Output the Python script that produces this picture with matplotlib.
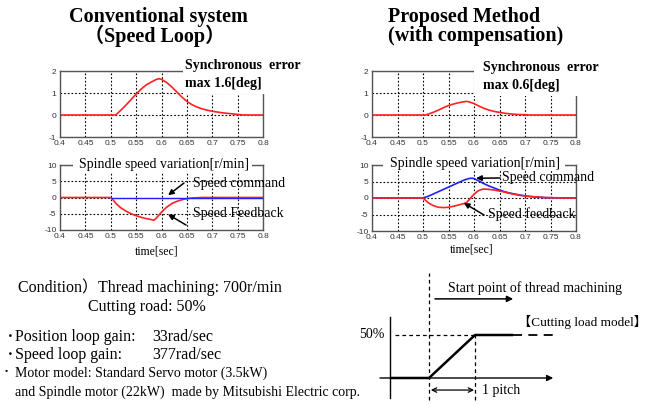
import matplotlib
matplotlib.use("Agg")
import matplotlib.pyplot as plt
from matplotlib.patches import Rectangle

# ---------------- data ----------------
x_ticks = [0.4, 0.45, 0.5, 0.55, 0.6, 0.65, 0.7, 0.75, 0.8]
x_tick_labels = ["0.4", "0.45", "0.5", "0.55", "0.6", "0.65", "0.7", "0.75", "0.8"]
err_yticks = [-1, 0, 1, 2]
spd_yticks = [-10, -5, 0, 5, 10]

# Synchronous error, conventional system [deg]
t_err_conv = [0.4, 0.51, 0.52, 0.53, 0.54, 0.55, 0.56, 0.57, 0.58, 0.59, 0.595, 0.6,
              0.61, 0.62, 0.63, 0.64, 0.65, 0.66, 0.67, 0.68, 0.69, 0.7, 0.72, 0.74, 0.76, 0.8]
err_conv = [0, 0, 0.22, 0.45, 0.7, 0.95, 1.18, 1.37, 1.5, 1.62, 1.65, 1.62,
            1.48, 1.28, 1.05, 0.82, 0.62, 0.47, 0.36, 0.28, 0.22, 0.17, 0.1, 0.05, 0, 0]

# Synchronous error, proposed method [deg]
t_err_prop = [0.4, 0.505, 0.52, 0.53, 0.54, 0.55, 0.56, 0.57, 0.58, 0.585, 0.59, 0.6,
              0.61, 0.62, 0.63, 0.64, 0.65, 0.66, 0.68, 0.7, 0.71, 0.8]
err_prop = [0, 0, 0.12, 0.22, 0.33, 0.43, 0.5, 0.56, 0.6, 0.62, 0.6, 0.52,
            0.4, 0.3, 0.22, 0.16, 0.12, 0.08, 0.03, 0.01, 0, 0]

# Spindle speed variation, conventional [r/min]
t_cmd_conv = [0.5, 0.8]
cmd_conv = [0, 0]
t_fb_conv = [0.4, 0.5, 0.505, 0.51, 0.52, 0.53, 0.54, 0.55, 0.56, 0.57, 0.58, 0.585,
             0.59, 0.595, 0.6, 0.61, 0.62, 0.63, 0.64, 0.65, 0.66, 0.68, 0.8]
fb_conv = [0, 0, -0.8, -1.8, -3.2, -4.2, -5.0, -5.6, -6.1, -6.5, -6.8, -7.0,
           -6.3, -5.4, -4.5, -3.0, -1.9, -1.2, -0.7, -0.35, -0.15, 0, 0]

# Spindle speed variation, proposed [r/min]
t_cmd_prop = [0.4, 0.5, 0.51, 0.52, 0.53, 0.54, 0.55, 0.56, 0.57, 0.58, 0.59, 0.595,
              0.6, 0.61, 0.62, 0.63, 0.64, 0.65, 0.66, 0.67, 0.68, 0.69, 0.7, 0.71, 0.72, 0.74, 0.8]
cmd_prop = [0, 0, 0.5, 1.2, 1.9, 2.6, 3.3, 4.0, 4.7, 5.4, 5.9, 6.0,
            5.9, 5.1, 4.3, 3.6, 3.0, 2.4, 1.9, 1.5, 1.2, 0.9, 0.65, 0.45, 0.3, 0.1, 0]
t_fb_prop = [0.4, 0.5, 0.505, 0.51, 0.52, 0.53, 0.54, 0.55, 0.56, 0.57, 0.58, 0.585,
             0.59, 0.595, 0.6, 0.605, 0.61, 0.615, 0.62, 0.63, 0.64, 0.65, 0.66, 0.67,
             0.68, 0.69, 0.7, 0.72, 0.74, 0.76, 0.78, 0.8]
fb_prop = [0, 0, -0.7, -1.4, -2.3, -2.8, -2.9, -2.8, -2.5, -2.1, -1.7, -1.4,
           -0.6, 0.3, 1.1, 1.8, 2.3, 2.6, 2.7, 2.6, 2.4, 2.1, 1.8, 1.4,
           1.1, 0.8, 0.6, 0.35, 0.15, 0.05, 0, 0]

# Cutting load model (x in pitch units, y in %)
load_x = [-0.85, 0, 1, 1.83]
load_y = [0, 0, 50, 50]
load_tail_x = [1.83, 2.74]
load_tail_y = [50, 50]

# ---------------- figure ----------------
W, H = 651, 405
fig = plt.figure(figsize=(W / 100, H / 100), dpi=100)
fig.patch.set_facecolor("white")

SERIF = ["Liberation Serif", "Noto Sans CJK JP", "DejaVu Serif"]
TICKF = ["Liberation Sans", "DejaVu Sans"]


def fx(px):
    return px / W


def fy(py):
    return 1 - py / H


def box(l, t, r, b):
    return [l / W, 1 - b / H, (r - l) / W, (b - t) / H]


def style(ax, yticks):
    ax.set_xlim(0.4, 0.8)
    ax.set_ylim(yticks[0], yticks[-1])
    ax.set_xticks(x_ticks)
    ax.set_xticklabels(x_tick_labels)
    ax.set_yticks(yticks)
    ax.set_yticklabels([str(v) for v in yticks])
    ax.grid(True, color="black", linestyle=(0, (1.5, 1.8)), linewidth=0.8)
    ax.tick_params(length=0, pad=2.5, labelsize=6, labelcolor="#333333")
    for lab in ax.get_xticklabels() + ax.get_yticklabels():
        lab.set_family(TICKF)
    for sp in ax.spines.values():
        sp.set_color("#555555")
        sp.set_linewidth(1.0)
    ax.set_axisbelow(True)


ax1 = fig.add_axes(box(60, 71, 263, 137))
ax2 = fig.add_axes(box(372, 71, 576, 137))
ax3 = fig.add_axes(box(60, 165, 263, 230))
ax4 = fig.add_axes(box(372, 165, 576, 231))

style(ax1, err_yticks)
style(ax2, err_yticks)
style(ax3, spd_yticks)
style(ax4, spd_yticks)

RED = "#ff2020"
BLUE = "#2020ff"
ax1.plot(t_err_conv, err_conv, color=RED, lw=1.2)
ax2.plot(t_err_prop, err_prop, color=RED, lw=1.2)
ax3.plot(t_fb_conv, fb_conv, color=RED, lw=1.2)
ax3.plot(t_cmd_conv, cmd_conv, color=BLUE, lw=1.0)
ax4.plot(t_cmd_prop, cmd_prop, color=BLUE, lw=1.2)
ax4.plot(t_fb_prop, fb_prop, color=RED, lw=1.2)

# white boxes covering parts of the axes frames (as in the original slide)
for (l, t, r, b) in [(183, 54, 315, 94), (474, 55, 625, 96), (73, 155, 252, 172), (383, 154, 565, 171)]:
    fig.add_artist(Rectangle((fx(l), fy(b)), (r - l) / W, (b - t) / H,
                             transform=fig.transFigure, facecolor="white",
                             edgecolor="none", zorder=1))

# titles
fig.text(fx(158), fy(17), "Conventional system", ha="center", va="center",
         fontsize=14.5, fontweight="bold", family=SERIF)
fig.text(fx(155), fy(36), "（Speed Loop）", ha="center", va="center",
         fontsize=14.5, fontweight="bold", family=SERIF)
fig.text(fx(388), fy(17), "Proposed Method", ha="left", va="center",
         fontsize=14.5, fontweight="bold", family=SERIF)
fig.text(fx(388), fy(36), "(with compensation)", ha="left", va="center",
         fontsize=14.5, fontweight="bold", family=SERIF)

# synchronous error labels
fig.text(fx(185), fy(66), "Synchronous  error", ha="left", va="center",
         fontsize=10, fontweight="bold", family=SERIF)
fig.text(fx(185), fy(84), "max 1.6[deg]", ha="left", va="center",
         fontsize=10, fontweight="bold", family=SERIF)
fig.text(fx(483), fy(68), "Synchronous  error", ha="left", va="center",
         fontsize=10, fontweight="bold", family=SERIF)
fig.text(fx(483), fy(86), "max 0.6[deg]", ha="left", va="center",
         fontsize=10, fontweight="bold", family=SERIF)

# spindle titles
fig.text(fx(79), fy(164), "Spindle speed variation[r/min]", ha="left", va="center",
         fontsize=10, family=SERIF)
fig.text(fx(390), fy(163), "Spindle speed variation[r/min]", ha="left", va="center",
         fontsize=10, family=SERIF)

# time labels
fig.text(fx(157), fy(251), "time[sec]", ha="center", va="center", fontsize=8.5, family=SERIF)
fig.text(fx(472), fy(249), "time[sec]", ha="center", va="center", fontsize=8.5, family=SERIF)

# speed labels and arrows
AP = dict(arrowstyle="-|>", color="black", lw=1.1, shrinkA=0, shrinkB=0, mutation_scale=8)
fig.text(fx(193), fy(183), "Speed command", ha="left", va="center", fontsize=10, family=SERIF)
fig.text(fx(193), fy(213), "Speed Feedback", ha="left", va="center", fontsize=10, family=SERIF)
ax3.annotate("", xy=(0.613, 0.7), xycoords="data", xytext=(fx(184), fy(183)),
             textcoords="figure fraction", arrowprops=AP)
ax3.annotate("", xy=(0.613, -5.2), xycoords="data", xytext=(fx(186), fy(225)),
             textcoords="figure fraction", arrowprops=AP)

fig.text(fx(502), fy(177), "Speed command", ha="left", va="center", fontsize=10, family=SERIF)
fig.text(fx(488), fy(214), "Speed feedback", ha="left", va="center", fontsize=10, family=SERIF)
ax4.annotate("", xy=(0.604, 6.0), xycoords="data", xytext=(fx(500), fy(178)),
             textcoords="figure fraction", arrowprops=AP)
ax4.annotate("", xy=(0.58, -1.5), xycoords="data", xytext=(fx(484), fy(215)),
             textcoords="figure fraction", arrowprops=AP)

# conditions text
fig.text(fx(18), fy(287), "Condition）Thread machining: 700r/min", ha="left", va="center",
         fontsize=11.5, family=SERIF)
fig.text(fx(88), fy(307), "Cutting road: 50%", ha="left", va="center",
         fontsize=11.5, family=SERIF)
# bullets
for (bx, by, fs) in [(10, 337, 11.5), (10, 355, 11.5), (6, 373, 10)]:
    fig.text(fx(bx), fy(by), "・", ha="center", va="center", fontsize=fs * 0.8, family=SERIF)
fig.text(fx(15), fy(337), "Position loop gain:", ha="left", va="center",
         fontsize=11.5, family=SERIF)
fig.text(fx(152), fy(337), "33rad/sec", ha="left", va="center", fontsize=11.5, family=SERIF)
fig.text(fx(15), fy(355), "Speed loop gain:", ha="left", va="center",
         fontsize=11.5, family=SERIF)
fig.text(fx(152), fy(355), "377rad/sec", ha="left", va="center", fontsize=11.5, family=SERIF)
fig.text(fx(15), fy(373), "Motor model: Standard Servo motor (3.5kW)", ha="left", va="center",
         fontsize=10, family=SERIF)
fig.text(fx(15), fy(392), "and Spindle motor (22kW)  made by Mitsubishi Electric corp.",
         ha="left", va="center", fontsize=10, family=SERIF)

# ---------------- cutting load model diagram ----------------
axd = fig.add_axes(box(350, 265, 651, 405))
axd.set_xlim((350 - 429) / 46, (651 - 429) / 46)
axd.set_ylim((378 - 405) / 43 * 50, (378 - 265) / 43 * 50)
axd.axis("off")

# axes of the diagram
axd.annotate("", xy=(2.70, 0), xytext=(-1.065, 0), xycoords="data",
             arrowprops=dict(arrowstyle="-|>", color="black", lw=1.0, shrinkA=0, shrinkB=0,
                             mutation_scale=9))
axd.plot([-0.85, -0.85], [-23, 71], color="black", lw=1.0)
# reference dashed lines
axd.plot([0, 0], [-26, 122], color="black", lw=0.9, ls=(0, (3, 2.5)))
axd.plot([1, 1], [-26, 50], color="black", lw=0.9, ls=(0, (3, 2.5)))
axd.plot([-0.74, 1], [50, 50], color="black", lw=0.9, ls=(0, (3, 2.5)))
# load
axd.plot(load_x, load_y, color="black", lw=1.8, solid_capstyle="butt")
axd.plot(load_tail_x, load_tail_y, color="black", lw=1.3, ls=(0, (5, 3.5)))
# start arrow
axd.annotate("", xy=(1.83, 92), xytext=(0.13, 92), xycoords="data",
             arrowprops=dict(arrowstyle="-|>", color="black", lw=1.1, shrinkA=0, shrinkB=0,
                             mutation_scale=9))
axd.text(0.41, 104.5, "Start point of thread machining", ha="left", va="center",
         fontsize=10, family=SERIF)
axd.text(1.93, 65, "【Cutting load model】", ha="left", va="center",
         fontsize=9.5, family=SERIF)
axd.text(-0.96, 50, "50%", ha="right", va="center", fontsize=10, family=SERIF)
# pitch arrow
axd.annotate("", xy=(0.98, -14), xytext=(0.04, -14), xycoords="data",
             arrowprops=dict(arrowstyle="<->", color="black", lw=0.9, shrinkA=0, shrinkB=0,
                             mutation_scale=8))
axd.text(1.15, -14, "1 pitch", ha="left", va="center", fontsize=10, family=SERIF)

fig.savefig("out.png", dpi=100)
